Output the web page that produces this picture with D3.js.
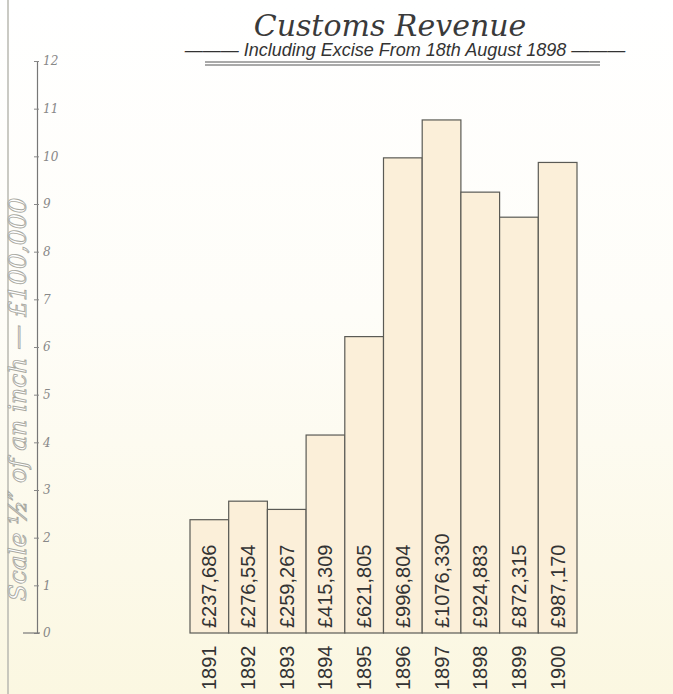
<!DOCTYPE html>
<html>
<head>
<meta charset="utf-8">
<script src="https://cdn.jsdelivr.net/npm/d3@7"></script>
<style>
  html, body { margin: 0; padding: 0; background: #fff; }
  svg { display: block; }
</style>
</head>
<body>
<div id="chart"></div>
<script>
var width = 673, height = 694;

// data
var years = ["1891", "1892", "1893", "1894", "1895", "1896", "1897", "1898", "1899", "1900"];
var revenue = [237686, 276554, 259267, 415309, 621805, 996804, 1076330, 924883, 872315, 987170];
var valueLabels = ["£237,686", "£276,554", "£259,267", "£415,309", "£621,805",
                   "£996,804", "£1076,330", "£924,883", "£872,315", "£987,170"];
var tickValues = [0, 1, 2, 3, 4, 5, 6, 7, 8, 9, 10, 11, 12];

var svg = d3.select("#chart").append("svg")
  .attr("width", width)
  .attr("height", height);

// paper tone
var defs = svg.append("defs");
var grad = defs.append("linearGradient")
  .attr("id", "paper")
  .attr("x1", 0).attr("y1", 0).attr("x2", 0).attr("y2", 1);
grad.append("stop").attr("offset", "0%").attr("stop-color", "#ffffff");
grad.append("stop").attr("offset", "45%").attr("stop-color", "#fefdf8");
grad.append("stop").attr("offset", "100%").attr("stop-color", "#fbf7e1");

svg.append("rect")
  .attr("width", width)
  .attr("height", height)
  .attr("fill", "url(#paper)");

// page edge on the left
svg.append("line")
  .attr("x1", 8).attr("x2", 8)
  .attr("y1", 0).attr("y2", height)
  .attr("stroke", "#b9b9b0")
  .attr("stroke-width", 1.5);

var y = d3.scaleLinear()
  .domain([0, 12])
  .range([633, 61]);

var x = d3.scaleBand()
  .domain(years)
  .range([190, 577])
  .padding(0);

// scale on the left (units of £100,000)
var axis = svg.append("g")
  .attr("transform", "translate(37,0)")
  .call(d3.axisRight(y)
    .tickValues(tickValues)
    .tickSize(0)
    .tickPadding(6)
    .tickFormat(d3.format("d")));

axis.select(".domain")
  .attr("stroke", "#777")
  .attr("stroke-width", 1.2);
axis.selectAll(".tick line").remove();
axis.selectAll(".tick").append("line")
  .attr("x1", -3).attr("x2", 2)
  .attr("stroke", "#888");
axis.selectAll(".tick text")
  .attr("fill", "#888")
  .style("font-family", "'DejaVu Serif', serif")
  .style("font-style", "italic")
  .style("font-size", "12px");

// longer tick at zero
svg.append("line")
  .attr("x1", 23).attr("x2", 40)
  .attr("y1", y(0)).attr("y2", y(0))
  .attr("stroke", "#777")
  .attr("stroke-width", 1.2);

// scale note
svg.append("text")
  .attr("transform", "translate(26," + y(4.9) + ")rotate(-90)")
  .attr("text-anchor", "middle")
  .attr("fill", "#fff")
  .attr("stroke", "#a8a8a0")
  .attr("stroke-width", 0.9)
  .style("font-family", "'DejaVu Serif', serif")
  .style("font-style", "italic")
  .style("font-size", "25px")
  .text("Scale ½\u2033 of an inch \u2014 £100,000");

// bars
svg.append("g")
  .selectAll("rect")
  .data(revenue)
  .enter().append("rect")
    .attr("x", function(d, i) { return x(years[i]); })
    .attr("y", function(d) { return y(d / 100000); })
    .attr("width", x.bandwidth())
    .attr("height", function(d) { return y(0) - y(d / 100000); })
    .attr("fill", "#fbefd9")
    .attr("stroke", "#5a5a55")
    .attr("stroke-width", 1.2);

// value labels written up the bars
svg.append("g")
  .selectAll("text")
  .data(valueLabels)
  .enter().append("text")
    .attr("transform", function(d, i) {
      return "translate(" + (x(years[i]) + x.bandwidth() / 2 + 7) + "," + (y(0) - 5) + ")rotate(-90)";
    })
    .attr("fill", "#333")
    .style("font-family", "'Liberation Sans', sans-serif")
    .style("font-size", "20px")
    .text(function(d) { return d; });

// years below the baseline
svg.append("g")
  .selectAll("text")
  .data(years)
  .enter().append("text")
    .attr("transform", function(d) {
      return "translate(" + (x(d) + x.bandwidth() / 2 + 7) + ",690)rotate(-90)";
    })
    .attr("fill", "#333")
    .style("font-family", "'Liberation Sans', sans-serif")
    .style("font-size", "20px")
    .text(function(d) { return d; });

// title
svg.append("text")
  .attr("x", 390)
  .attr("y", 36)
  .attr("text-anchor", "middle")
  .attr("fill", "#3a3a3a")
  .style("font-family", "'DejaVu Serif', serif")
  .style("font-style", "italic")
  .style("font-size", "30px")
  .text("Customs Revenue");

svg.append("text")
  .attr("x", 405)
  .attr("y", 56)
  .attr("text-anchor", "middle")
  .attr("fill", "#333")
  .style("font-family", "'Liberation Sans', sans-serif")
  .style("font-style", "italic")
  .style("font-size", "18px")
  .text("\u2014\u2014\u2014 Including Excise From 18th August 1898 \u2014\u2014\u2014");

// double rule under the subtitle
[62, 65].forEach(function(ly) {
  svg.append("line")
    .attr("x1", 205).attr("x2", 600)
    .attr("y1", ly).attr("y2", ly)
    .attr("stroke", "#555")
    .attr("stroke-width", 1);
});
</script>
</body>
</html>
